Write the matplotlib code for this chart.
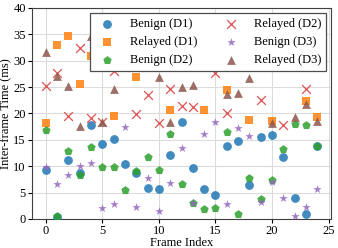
import matplotlib
matplotlib.use("Agg")
import matplotlib.pyplot as plt
import numpy as np

plt.rcParams['font.family'] = ['Liberation Serif', 'DejaVu Serif']
plt.rcParams['font.size'] = 9

frames = list(range(25))
benign_d1 = [9.3, 0.4, 11.2, 8.7, 17.8, 14.3, 15.1, 10.5, 8.7, 5.8, 5.7, 12.1, 18.3,
             9.6, 5.6, 4.5, 13.9, 14.8, 6.5, 15.6, 15.9, 11.8, 3.9, 0.9, 13.9]
relayed_d1 = [18.1, 32.9, 34.6, 25.6, 30.8, 33.5, 19.5, 33.0, 27.0, 36.0, 31.0, 20.6, 31.0,
              35.5, 20.7, 32.0, 24.4, 34.0, 18.8, 34.0, 18.5, 33.0, 31.5, 22.3, 19.4]
benign_d2 = [16.9, 0.5, 12.8, 8.3, 13.6, 9.8, 9.9, 5.5, 9.1, 11.8, 9.2, 16.1, 6.6,
             3.0, 1.8, 2.0, 16.4, 0.9, 7.7, 3.7, 7.4, 13.2, 18.0, 17.8, 13.9]
relayed_d2 = [25.2, 27.6, 19.6, 32.5, 19.1, 18.3, 28.1, 35.0, 19.9, 23.5, 18.1, 24.6, 21.4,
              21.2, 30.5, 27.7, 20.0, 35.0, 31.0, 22.5, 32.0, 17.9, 36.0, 24.6, 31.0]
benign_d3 = [9.8, 6.6, 8.3, 10.0, 10.7, 2.0, 2.8, 17.4, 2.3, 7.7, 1.6, 6.9, 13.5,
             3.1, 16.1, 18.3, 2.8, 17.2, 15.8, 3.3, 7.1, 3.9, 0.5, 2.3, 5.7]
relayed_d3 = [31.7, 27.1, 25.2, 17.6, 34.7, 18.3, 24.6, 30.5, 36.5, 31.5, 26.9, 18.4, 25.1,
              25.3, 33.0, 32.0, 23.7, 23.8, 26.8, 34.5, 18.2, 31.0, 19.3, 21.8, 18.5]

series = [
    ("Benign (D1)", benign_d1, 'o', '#1f77b4', 40),
    ("Relayed (D1)", relayed_d1, 's', '#ff7f0e', 40),
    ("Benign (D2)", benign_d2, 'p', '#2ca02c', 40),
    ("Relayed (D2)", relayed_d2, 'x', '#d62728', 40),
    ("Benign (D3)", benign_d3, '*', '#9467bd', 40),
    ("Relayed (D3)", relayed_d3, '^', '#8c564b', 40),
]

fig = plt.figure(figsize=(3.38, 2.48), dpi=100)
ax = fig.add_axes([0.095, 0.117, 0.884, 0.851])
ax.grid(True, color='#dcdcdc', linewidth=0.8, zorder=0)
ax.set_axisbelow(True)

for label, vals, m, c, s in series:
    if m == 'x':
        ax.scatter(frames, vals, marker=m, color=c, s=s, alpha=0.8, linewidths=0.9,
                   label=label, zorder=3)
    else:
        ax.scatter(frames, vals, marker=m, color=c, s=s, alpha=0.85, linewidths=0,
                   label=label, zorder=3)

ax.set_ylim(0, 40)
ax.set_xticks([0, 5, 10, 15, 20, 25])
ax.set_yticks([0, 5, 10, 15, 20, 25, 30, 35, 40])
ax.set_xlabel("Frame Index", labelpad=0)
ax.set_ylabel("Inter-frame Time (ms)", labelpad=1)
ax.tick_params(length=3, width=0.8, pad=1.5)
for sp in ax.spines.values():
    sp.set_color('0.25')
    sp.set_linewidth(0.8)

leg = ax.legend(loc='upper right', ncol=2, frameon=True, fancybox=False,
                framealpha=1, edgecolor='0.3', borderpad=0.4, handletextpad=0.8,
                columnspacing=1.7, labelspacing=0.5, borderaxespad=0.4)
leg.get_frame().set_linewidth(0.9)
leg.set_zorder(5)

fig.savefig("out.png", dpi=100)
